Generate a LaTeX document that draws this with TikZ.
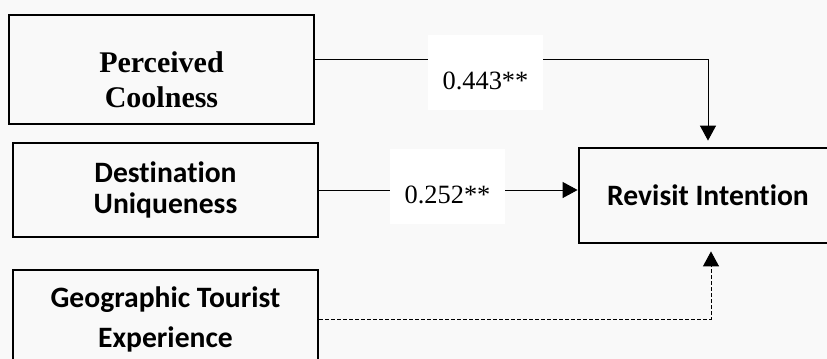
\documentclass[tikz,border=0pt]{standalone}
\usepackage{fontspec}
\setmainfont{Liberation Serif}
\newfontfamily\calibri[Ligatures=NoCommon]{Carlito}
\usetikzlibrary{arrows.meta}
\definecolor{bgcol}{HTML}{F9F9F9}

\begin{document}
\begin{tikzpicture}[x=0.5pt, y=-0.5pt,
    serifbox/.style = {rectangle, draw, line width=1.4pt, align=center, fill=bgcol, font=\fontsize{15}{17.5}\selectfont\bfseries},
    sansbox/.style = {rectangle, draw, line width=1.4pt, align=center, fill=bgcol, font=\calibri\fontsize{14.8}{20}\selectfont\bfseries},
    coef/.style = {fill=white, inner sep=0pt, minimum width=57.5pt, text height=27pt, text depth=10.5pt, anchor=base, font=\fontsize{13.2}{16}\selectfont},
    link/.style = {line width=0.5pt},
    >={Triangle[length=7.5pt, width=8pt]}]

    \useasboundingbox (0,0) rectangle (827,359);
    \clip (0,0) rectangle (827,359);
    \fill[bgcol] (0,0) rectangle (827,359);

    % constructs
    \node[serifbox, minimum width=152.5pt, minimum height=54.5pt] (pc) at (161.5,69.5) {\rule{0pt}{21pt}Perceived\\Coolness};
    \node[sansbox, minimum width=152.5pt, minimum height=47pt, font=\calibri\fontsize{14.8}{15.5}\selectfont\bfseries] (du) at (165.5,190) {Destination\\Uniqueness};
    \node[sansbox, minimum width=152.5pt, minimum height=49.5pt] (gte) at (165.5,319.5) {Geographic Tourist\\Experience};
    \node[sansbox, minimum width=129pt, minimum height=47.5pt] (ri) at (708,195.5) {Revisit Intention};

    % paths
    \draw[link, ->, shorten >=3pt] ([yshift=5.25pt]pc.east) -| (ri.north);
    \draw[link, ->] (du.east) -- (du.east -| ri.west);
    \draw[link, ->, dash pattern=on 2pt off 1pt, shorten >=3.5pt] (gte.east) -| ([xshift=1.5pt]ri.south);

    \node[coef] (c1) at (485.5,89) {0.443**};
    \node[coef] (c2) at (447.5,203) {0.252**};
\end{tikzpicture}
\end{document}
